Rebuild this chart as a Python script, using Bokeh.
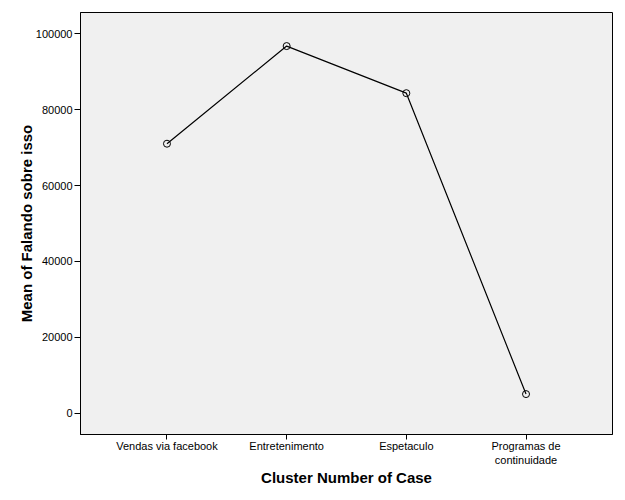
from bokeh.plotting import figure
from bokeh.models import FixedTicker, Range1d, BasicTickFormatter
from bokeh.embed import file_html
from bokeh.resources import INLINE

categories = ["Vendas via facebook", "Entretenimento", "Espetaculo", "Programas de\ncontinuidade"]
means = [71000, 96700, 84300, 5100]
y_ticks = [0, 20000, 40000, 60000, 80000, 100000]

xs = list(range(len(categories)))

p = figure(width=620, height=495, output_backend="svg", toolbar_location=None,
           x_range=Range1d(-0.7226, len(categories) - 1 + 0.7226),
           y_range=Range1d(-5535, 105535),
           min_border_left=80, min_border_right=8, min_border_top=12, min_border_bottom=61)

p.background_fill_color = "#f0f0f0"
p.border_fill_color = "white"
p.outline_line_color = "black"
p.outline_line_width = 1
p.grid.visible = False

p.line(xs, means, line_color="black", line_width=1.2)
p.scatter(xs, means, marker="circle", size=7, line_color="black", line_width=1, fill_color=None)

font = "Liberation Sans"

p.xaxis.ticker = FixedTicker(ticks=xs)
p.xaxis.major_label_overrides = {i: c for i, c in enumerate(categories)}
p.xaxis.axis_label = "Cluster Number of Case"
p.yaxis.ticker = FixedTicker(ticks=y_ticks)
p.yaxis.formatter = BasicTickFormatter(use_scientific=False)
p.yaxis.axis_label = "Mean of Falando sobre isso"

for ax in (p.xaxis[0], p.yaxis[0]):
    ax.axis_line_color = "black"
    ax.axis_line_width = 1
    ax.major_tick_line_color = "black"
    ax.major_tick_line_width = 1
    ax.minor_tick_line_color = None
    ax.major_tick_in = 0
    ax.major_label_text_font = font
    ax.major_label_text_font_size = "11px"
    ax.major_label_text_color = "black"
    ax.axis_label_text_font = font
    ax.axis_label_text_font_size = "15px"
    ax.axis_label_text_font_style = "bold"
    ax.axis_label_text_color = "black"

p.yaxis.major_tick_out = 6
p.yaxis.major_label_standoff = 2
p.yaxis.axis_label_standoff = -2
p.xaxis.major_tick_out = 5
p.xaxis.major_label_standoff = 0
p.xaxis.axis_label_standoff = 0

open("out.html", "w").write(file_html(p, INLINE))
